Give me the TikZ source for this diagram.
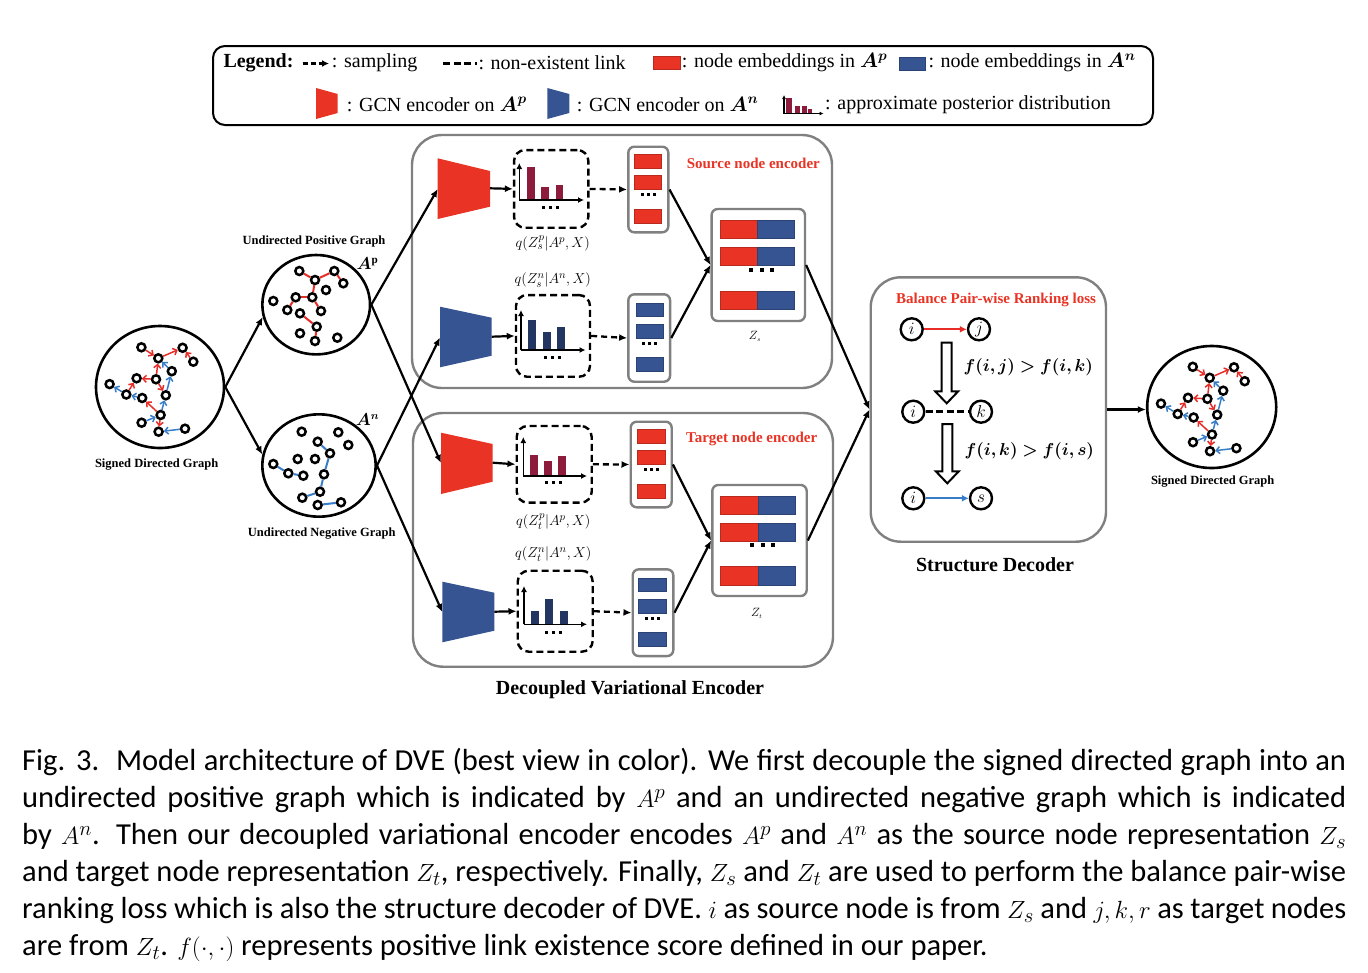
\documentclass[tikz,border=0pt]{standalone}
\usepackage{amsmath}
\usepackage{bm}
\usepackage{fontspec}
\setmainfont{Liberation Serif}
\newfontfamily\capfont{Carlito}
\usetikzlibrary{arrows.meta,shapes.geometric,calc}
\definecolor{cred}{RGB}{233,51,36}
\definecolor{cblue}{RGB}{54,84,145}
\definecolor{bred}{RGB}{140,27,60}
\definecolor{bnavy}{RGB}{35,54,98}
\definecolor{ered}{RGB}{232,45,40}
\definecolor{eblue}{RGB}{55,125,200}
\definecolor{boxgray}{RGB}{128,128,128}
\tikzset{
  gnode/.style={circle,draw=black,line width=2.5pt,minimum size=8pt,inner sep=0pt,fill=white},
  bigc/.style={ellipse,draw=black,line width=2.6pt,inner sep=0pt},
  sgred/.style={draw=ered,line width=1.5pt,-{Straight Barb[length=3.5pt,width=7pt]}},
  sgblue/.style={draw=eblue,line width=1.5pt,-{Straight Barb[length=3.5pt,width=7pt]}},
  ured/.style={draw=ered,line width=2pt},
  ublue/.style={draw=eblue,line width=2pt},
  conn/.style={line width=2.2pt,-{Latex[length=8pt,width=7pt]}},
  dconn/.style={line width=2.3pt,dash pattern=on 6pt off 4pt,-{Latex[length=8pt,width=7pt]}},
  distbox/.style={draw=black,line width=2.4pt,dash pattern=on 7pt off 4pt,rounded corners=11pt,inner sep=0pt},
  embbox/.style={draw=boxgray,line width=2.4pt,rounded corners=6pt,inner sep=0pt},
  bigbox/.style={draw=boxgray,line width=2.4pt,rounded corners=30pt},
  ebred/.style={fill=cred,draw=cred!80!black,line width=0.6pt},
  ebblue/.style={fill=cblue,draw=cblue!80!black,line width=0.6pt},
  lgd/.style={anchor=west,inner sep=0pt,font=\fontsize{20}{24}\selectfont},
  lbl/.style={inner sep=0pt,font=\fontsize{12.5}{15}\selectfont\bfseries},
  qlbl/.style={inner sep=0pt,font=\fontsize{15}{18}\selectfont},
  title/.style={inner sep=0pt,font=\fontsize{20}{24}\selectfont\bfseries},
  redtitle/.style={inner sep=0pt,text=cred,font=\fontsize{15}{18}\selectfont\bfseries},
  dnode/.style={circle,draw=black,line width=2.4pt,minimum size=22pt,inner sep=0pt,font=\fontsize{16}{18}\selectfont},
}
\newcommand{\mydots}[3]{% x y spacing
  \fill (#1-#3-1.5,#2-1.5) rectangle ++(3,3);
  \fill (#1-1.5,#2-1.5) rectangle ++(3,3);
  \fill (#1+#3-1.5,#2-1.5) rectangle ++(3,3);}
\newcommand{\sgraph}[3]{%
  \foreach \n/\dx/\dy in {1/-18.6/-40.2,2/-1.7/-29.2,3/22.6/-39.7,4/33.3/-25.8,5/11.8/-16.3,6/-4/-8.2,7/-23.4/-9.2,8/-50.4/-3.4,9/-33.7/7,10/-17.8/10.5,11/5.8/7.8,12/0.6/27.5,13/-18.4/35.2,14/-1.4/44.2,15/25/41.2}
    \node[gnode] (#1\n) at ({#2+\dx},{#3+\dy}) {};
  \foreach \a/\b in {1/2,2/3,4/3,6/2,6/7,6/11,9/7,12/10,12/14}
    \draw[sgred] (#1\a) -- (#1\b);
  \foreach \a/\b in {5/2,11/5,9/8,10/9,12/11,13/12,15/14}
    \draw[sgblue] (#1\a) -- (#1\b);
}
\newcommand{\hollowarrow}[3]{% x ytop ytip
  \draw[line width=2pt,fill=white,line join=miter]
    (#1-5,#2) -- (#1+5,#2) -- (#1+5,#3-12) -- (#1+11.5,#3-12) -- (#1,#3)
    -- (#1-11.5,#3-12) -- (#1-5,#3-12) -- cycle;}
\newcommand{\capline}[1]{\makebox[1324pt][s]{#1}}
\begin{document}
\begin{tikzpicture}[x=1pt,y=-1pt]
\useasboundingbox (0,0) rectangle (1368,972);
\fill[white] (0,0) rectangle (1368,972);

% ---------------- legend ----------------
\draw[line width=2pt,rounded corners=12pt] (213,46) rectangle (1153,125);
\node[lgd,font=\fontsize{20}{24}\selectfont\bfseries] (lg0) at (223.3,62.7) {Legend:};
\coordinate (la1) at (302.7,63.5); \coordinate (la2) at (329,63.5);
\draw[line width=2.3pt,dash pattern=on 5pt off 3pt,-{Latex[length=7pt,width=7pt]}] (la1) -- (la2);
\node[lgd] (lg1) at (331.7,62.7) {: sampling};
\coordinate (lb1) at (443.3,63.5); \coordinate (lb2) at (476.7,63.5);
\draw[line width=2.5pt,dash pattern=on 7pt off 3.5pt] (lb1) -- (lb2);
\node[lgd] (lg2) at (478.3,62.7) {: non-existent link};
\fill[ebred] (653.3,56.7) rectangle (680,69.3);
\node[lgd] (lg3) at (681.7,62.7) {: node embeddings in $\bm{A^{p}}$};
\fill[ebblue] (899,57.5) rectangle (925,70.5);
\node[lgd] (lg4) at (928.3,62.7) {: node embeddings in $\bm{A^{n}}$};
\fill[cred] (316,88) -- (337.7,94) -- (337.7,113) -- (316,119) -- cycle;
\node[lgd] (lg5) at (346.7,104.3) {: GCN encoder on $\bm{A^{p}}$};
\fill[cblue] (547.3,88) -- (569.3,94) -- (569.3,113) -- (547.3,119) -- cycle;
\node[lgd] (lg6) at (576.7,104.3) {: GCN encoder on $\bm{A^{n}}$};
\fill[bred] (786,97.5) rectangle (791.7,113);
\fill[bred] (795,106) rectangle (800,113);
\fill[bred] (801.7,106) rectangle (806.7,113);
\fill[bred] (808.3,109) rectangle (811.7,113);
\draw[line width=1.3pt,-{Latex[length=4pt,width=4pt]}] (784,113.5) -- (784,95);
\draw[line width=1.3pt,-{Latex[length=4pt,width=4pt]}] (784,113.5) -- (823.5,113.5);
\node[lgd] (lg7) at (825,104.3) {: approximate posterior distribution};

% ---------------- big boxes ----------------
\draw[bigbox] (412,135) rectangle (832,388);
\draw[bigbox] (413,413) rectangle (833,666.7);
\node[bigbox,minimum width=235.3pt,minimum height=264.4pt,inner sep=0pt] (dec) at (988.35,409.5) {};

% ---------------- graphs ----------------
\node[bigc,minimum width=128pt,minimum height=122pt] (sg) at (160,387) {};
\sgraph{L}{160}{387.5}
\node[bigc,minimum width=129pt,minimum height=122pt] (rg) at (1211.7,407) {};
\sgraph{R}{1211.4}{407}

\node[bigc,minimum width=107.7pt,minimum height=99.4pt] (pg) at (316.2,304.7) {};
\foreach \n/\x/\y in {1/299.3/271,2/315/280,3/334.3/271,4/343.3/283.3,5/326/290,6/295.7/297.3,7/312.3/297.3,8/273.3/301,9/287.3/310,10/321/311,11/300/313.3,12/316.7/326.7,13/300/333.3,14/315/341,15/337.3/337.7}
  \node[gnode] (P\n) at (\x,\y) {};
\foreach \a/\b in {1/2,2/3,3/4,2/7,6/7,6/9,7/10,11/12,12/14}
  \draw[ured] (P\a) -- (P\b);

\node[bigc,minimum width=113.4pt,minimum height=102.4pt] (ng) at (319,465.5) {};
\foreach \n/\x/\y in {1/301.7/431.7,2/338.3/432.3,3/317.7/441.7,4/348.3/445,5/330/453.3,6/297.7/459,7/315/459,8/273.3/464,9/288.3/473.3,10/303.3/475.7,11/324/474.3,12/320/491.7,13/302.3/497.7,14/317.7/505,15/341/502.3}
  \node[gnode] (N\n) at (\x,\y) {};
\foreach \a/\b in {3/5,5/11,11/12,12/13,8/9,9/10,14/15}
  \draw[ublue] (N\a) -- (N\b);

\node[lbl] (tpg) at (314,241.7) {Undirected Positive Graph};
\node[lbl] (tsg) at (156.7,465) {Signed Directed Graph};
\node[lbl] (tng) at (321.7,533.3) {Undirected Negative Graph};
\node[lbl] (trg) at (1212.7,481.7) {Signed Directed Graph};
\node[qlbl,font=\fontsize{16}{18}\selectfont] (tap) at (367.5,264) {$\bm{A^{\mathrm{p}}}$};
\node[qlbl,font=\fontsize{16}{18}\selectfont] (tan) at (367.5,420) {$\bm{A^{n}}$};

% ---------------- encoders ----------------
% top red
\fill[cred] (437.7,158.3) -- (490,171) -- (490,206.7) -- (437.7,219) -- cycle;
\coordinate (t1in) at (437.7,189); \coordinate (t1out) at (490,188.3);
\node[distbox,minimum width=74.3pt,minimum height=77.7pt] (d1) at (551.2,188.9) {};
\fill[bred] (526.7,166.7) rectangle (535,200);
\fill[bred] (541,186.7) rectangle (549,200);
\fill[bred] (555.7,185) rectangle (563.3,200);
\draw[line width=1.6pt,-{Latex[length=6pt,width=6pt]}] (519.3,200) -- (519.3,163);
\draw[line width=1.6pt,-{Latex[length=6pt,width=6pt]}] (519.3,200) -- (584,200);
\mydots{550}{207.7}{7}
\node[embbox,minimum width=40pt,minimum height=85.6pt] (e1) at (648.3,189.5) {};
\fill[ebred] (634,154.3) rectangle (661.7,168.3);
\fill[ebred] (634,175) rectangle (661.7,189.3);
\fill[ebred] (634,209) rectangle (661.7,223.3);
\mydots{648}{194.3}{6}
% top blue
\fill[cblue] (440,306.7) -- (491.7,317.7) -- (491.7,355.7) -- (440,367.3) -- cycle;
\coordinate (t2in) at (440,337.5); \coordinate (t2out) at (491.7,336.7);
\node[distbox,minimum width=74pt,minimum height=81.7pt] (d2) at (553,335.9) {};
\fill[bnavy] (528.3,320) rectangle (536,350);
\fill[bnavy] (542.7,331.7) rectangle (550.7,350);
\fill[bnavy] (556.7,327.3) rectangle (565,350);
\draw[line width=1.6pt,-{Latex[length=6pt,width=6pt]}] (521,350) -- (521,310);
\draw[line width=1.6pt,-{Latex[length=6pt,width=6pt]}] (521,350) -- (585.5,350);
\mydots{552}{357.7}{7}
\node[embbox,minimum width=41.7pt,minimum height=87.4pt] (e2) at (649.2,338) {};
\fill[ebblue] (636,303.3) rectangle (663.3,316.7);
\fill[ebblue] (636,324.3) rectangle (663.3,338.3);
\fill[ebblue] (636,357.7) rectangle (663.3,371.7);
\mydots{649.7}{343.3}{6}
% Zs
\node[embbox,minimum width=93.3pt,minimum height=112pt] (zs) at (758.3,265) {};
\foreach \ya/\yb in {220/238.3,247.3/265.7,291/309.3}{
  \fill[ebred] (720.7,\ya) rectangle (757.3,\yb);
  \fill[ebblue] (757.3,\ya) rectangle (794,\yb);}
\fill (749,267.5) rectangle ++(4,4); \fill (759.5,267.5) rectangle ++(4,4); \fill (770,267.5) rectangle ++(4,4);
\node[qlbl,font=\fontsize{13}{15}\selectfont] (tzs) at (755,336.7) {$Z_{\scriptscriptstyle s}$};
\node[redtitle] (tsrc) at (753.3,163.3) {Source node encoder};
\node[qlbl] (q1) at (552.7,243.3) {$q(Z_s^p|A^p,X)$};
\node[qlbl] (q2) at (552.7,280) {$q(Z_s^n|A^n,X)$};

% bottom red
\fill[cred] (441,432.7) -- (492.7,444) -- (492.7,481.7) -- (441,494) -- cycle;
\coordinate (t3in) at (441,463); \coordinate (t3out) at (492.7,462.7);
\node[distbox,minimum width=75pt,minimum height=76.7pt] (d3) at (554.2,464.3) {};
\fill[bred] (530,455) rectangle (537.7,476);
\fill[bred] (544.3,461) rectangle (552,476);
\fill[bred] (558.3,455.7) rectangle (566,476);
\draw[line width=1.6pt,-{Latex[length=6pt,width=6pt]}] (523.3,476) -- (523.3,437);
\draw[line width=1.6pt,-{Latex[length=6pt,width=6pt]}] (523.3,476) -- (587,476);
\mydots{553}{482.7}{7}
\node[embbox,minimum width=41pt,minimum height=85.6pt] (e3) at (651.2,464.5) {};
\fill[ebred] (637.3,429.3) rectangle (665,443.3);
\fill[ebred] (637.3,450) rectangle (665,464.3);
\fill[ebred] (637.3,484) rectangle (665,498.3);
\mydots{651}{469.3}{6}
% bottom blue
\fill[cblue] (442.3,581.7) -- (494.3,592.7) -- (494.3,630.7) -- (442.3,642.3) -- cycle;
\coordinate (t4in) at (442.3,612); \coordinate (t4out) at (494.3,611.7);
\node[distbox,minimum width=75pt,minimum height=81pt] (d4) at (555.2,611.2) {};
\fill[bnavy] (531,610.7) rectangle (538.7,624.3);
\fill[bnavy] (545,599) rectangle (553.3,624.3);
\fill[bnavy] (560,610.7) rectangle (567.7,624.3);
\draw[line width=1.6pt,-{Latex[length=6pt,width=6pt]}] (524,624.3) -- (524,586);
\draw[line width=1.6pt,-{Latex[length=6pt,width=6pt]}] (524,624.3) -- (587,624.3);
\mydots{553.5}{632.7}{7}
\node[embbox,minimum width=40.6pt,minimum height=86.7pt] (e4) at (653,612.7) {};
\fill[ebblue] (638.3,578.3) rectangle (666,591.7);
\fill[ebblue] (638.3,599.3) rectangle (666,613.3);
\fill[ebblue] (638.3,632.7) rectangle (666,646.7);
\mydots{652}{618.3}{6}
% Zt
\node[embbox,minimum width=94.4pt,minimum height=111pt] (zt) at (759.5,540.5) {};
\foreach \ya/\yb in {496/514.3,523.3/541.7,566.7/585}{
  \fill[ebred] (720.7,\ya) rectangle (758.3,\yb);
  \fill[ebblue] (758.3,\ya) rectangle (795,\yb);}
\fill (750,543) rectangle ++(4,4); \fill (760.5,543) rectangle ++(4,4); \fill (771,543) rectangle ++(4,4);
\node[qlbl,font=\fontsize{13}{15}\selectfont] (tzt) at (756.7,613.3) {$Z_{\scriptscriptstyle t}$};
\node[redtitle] (ttgt) at (751.7,439.3) {Target node encoder};
\node[qlbl] (q3) at (553.3,521.7) {$q(Z_t^p|A^p,X)$};
\node[qlbl] (q4) at (553.3,554) {$q(Z_t^n|A^n,X)$};
\node[title] (tdve) at (630,690) {Decoupled Variational Encoder};

% encoder internal connectors
\draw[conn] (t1out) -- (d1.west);
\draw[conn] (t2out) -- (d2.west);
\draw[conn] (t3out) -- (d3.west);
\draw[conn] (t4out) -- (d4.west);
\draw[dconn] (d1.east) -- (e1.west);
\draw[dconn] (d2.east) -- (e2.west);
\draw[dconn] (d3.east) -- (e3.west);
\draw[dconn] (d4.east) -- (e4.west);
\draw[conn] (e1.east) -- (zs.west);
\draw[conn] (e2.east) -- (zs.west);
\draw[conn] (e3.east) -- (zt.west);
\draw[conn] (e4.east) -- (zt.west);

% graph connectors
\draw[conn] (sg.east) -- (pg.193);
\draw[conn] (sg.east) -- (ng.169);
\draw[conn] (pg.east) -- (t1in);
\draw[conn] (pg.east) -- (t3in);
\draw[conn] (ng.east) -- (t2in);
\draw[conn] (ng.east) -- (t4in);
\draw[conn] (zs.east) -- (dec.west);
\draw[conn] (zt.east) -- (dec.west);
\draw[conn] (dec.east) -- (rg.west |- dec.east);

% ---------------- decoder ----------------
\node[redtitle] (tbpr) at (996,300) {Balance Pair-wise Ranking loss};
\node[dnode] (i1) at (911.7,329.3) {$i$};
\node[dnode] (nj) at (979,329.3) {$j$};
\node[dnode] (i2) at (913.3,411.7) {$i$};
\node[dnode] (nk) at (981,411.7) {$k$};
\node[dnode] (i3) at (913.3,498.3) {$i$};
\node[dnode] (ns) at (981,498.3) {$s$};
\draw[draw=ered,line width=2.2pt,-{Latex[length=7pt,width=7pt]}] (i1) -- (nj);
\draw[line width=2.6pt,dash pattern=on 7pt off 3.5pt] (i2) -- (nk);
\draw[draw=eblue,line width=2.2pt,-{Latex[length=7pt,width=7pt]}] (i3) -- (ns);
\hollowarrow{946.7}{342.7}{403.3}
\hollowarrow{947.3}{424}{483.3}
\node[inner sep=0pt,font=\fontsize{17.5}{20}\selectfont] (f1) at (1028.3,366.7) {$\bm{f(i,j) > f(i,k)}$};
\node[inner sep=0pt,font=\fontsize{17.5}{20}\selectfont] (f2) at (1029.3,450.7) {$\bm{f(i,k) > f(i,s)}$};
\node[title] (tsd) at (995,565) {Structure Decoder};

% ---------------- caption ----------------
\node[anchor=north west,inner sep=0pt,align=left,
      font=\capfont\fontsize{30.5}{37}\selectfont] (cap) at (22,748)
{\capline{Fig. 3.\hspace{0.55em}Model architecture of DVE (best view in color). We first decouple the signed directed graph into an}\\
\capline{undirected positive graph which is indicated by $A^p$ and an undirected negative graph which is indicated}\\
\capline{by $A^n$. Then our decoupled variational encoder encodes $A^p$ and $A^n$ as the source node representation $Z_s$}\\
\capline{and target node representation $Z_t$, respectively. Finally, $Z_s$ and $Z_t$ are used to perform the balance pair-wise}\\
\capline{ranking loss which is also the structure decoder of DVE. $i$ as source node is from $Z_s$ and $j,k,r$ as target nodes}\\
are from $Z_t$. $f(\cdot,\cdot)$ represents positive link existence score defined in our paper.};
\end{tikzpicture}
\end{document}
